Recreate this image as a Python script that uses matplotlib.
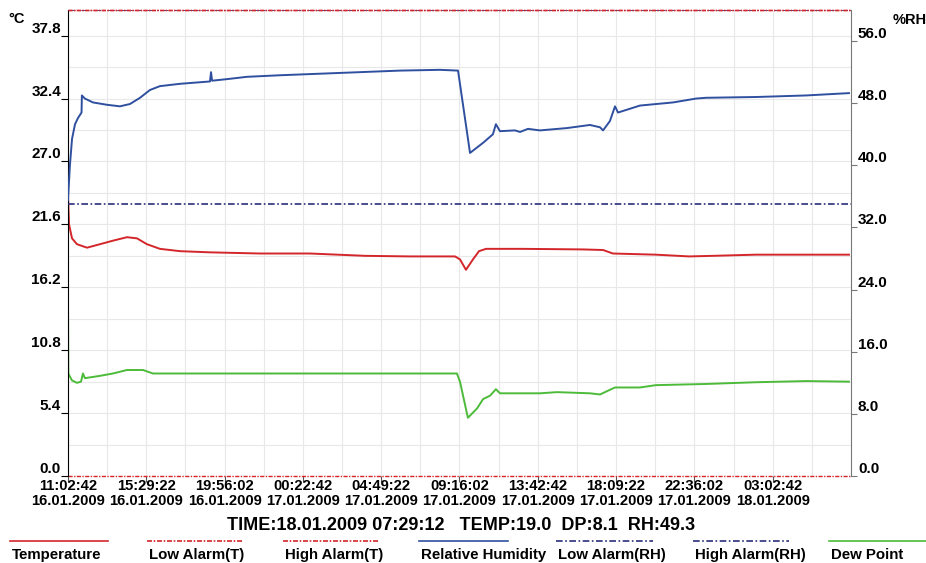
import matplotlib
matplotlib.use('Agg')
import matplotlib.pyplot as plt
import numpy as np
from matplotlib.lines import Line2D

# время в часах от начала записи (16.01.2009 11:02:42)
rh_hours = [0.0, 0.11, 0.23, 0.40, 0.57, 0.77, 0.79, 0.96, 1.42, 2.21, 2.95, 3.52, 4.09, 4.65,
            5.22, 6.36, 7.49, 8.06, 8.12, 8.18, 9.02, 10.16, 12.03, 14.30, 16.57, 18.84,
            21.11, 22.14, 22.82, 23.56, 24.12, 24.29, 24.52, 25.37, 25.66, 26.11, 26.79,
            28.32, 29.63, 30.20, 30.37, 30.76, 31.05, 31.22, 32.47, 34.34, 35.65, 36.21,
            39.05, 41.89, 44.33]
rh_values = [35.5, 40.0, 43.4, 45.3, 46.1, 46.8, 49.0, 48.6, 48.1, 47.8, 47.6, 47.9, 48.7, 49.7,
             50.2, 50.5, 50.7, 50.8, 52.0, 50.9, 51.1, 51.4, 51.6, 51.8, 52.0, 52.2,
             52.3, 52.2, 41.6, 42.9, 44.0, 45.3, 44.4, 44.5, 44.3, 44.7, 44.5,
             44.8, 45.2, 44.9, 44.5, 45.7, 47.6, 46.8, 47.7, 48.1, 48.6, 48.7,
             48.8, 49.0, 49.3]

temp_hours = [0.0, 0.06, 0.23, 0.51, 1.08, 1.82, 2.55, 3.35, 3.92, 4.48, 5.22, 6.36, 8.06,
              10.90, 13.74, 16.86, 19.41, 21.97, 22.25, 22.59, 22.99, 23.33, 23.73, 25.83,
              29.23, 30.37, 30.93, 33.37, 35.25, 36.61, 39.05, 44.33]
temp_values = [24.2, 21.6, 20.4, 19.9, 19.6, 19.9, 20.2, 20.5, 20.4, 19.9, 19.5, 19.3, 19.2,
               19.1, 19.1, 18.9, 18.85, 18.85, 18.6, 17.7, 18.6, 19.3, 19.5, 19.5,
               19.45, 19.4, 19.1, 19.0, 18.85, 18.9, 19.0, 19.0]

dp_hours = [0.0, 0.02, 0.23, 0.51, 0.74, 0.85, 0.96, 1.82, 2.55, 3.35, 4.26, 4.82, 5.79,
            13.17, 18.84, 22.08, 22.25, 22.70, 23.22, 23.56, 23.96, 24.29, 24.52, 26.79,
            27.76, 29.63, 30.20, 30.76, 31.05, 32.47, 33.37, 36.21, 39.05, 41.89, 44.33]
dp_values = [15.6, 8.8, 8.2, 8.0, 8.1, 8.8, 8.4, 8.6, 8.8, 9.1, 9.1, 8.8, 8.8,
             8.8, 8.8, 8.8, 8.1, 5.0, 5.8, 6.6, 6.9, 7.45, 7.1, 7.1,
             7.2, 7.1, 7.0, 7.4, 7.6, 7.6, 7.8, 7.9, 8.05, 8.15, 8.1]

low_alarm_t = 0.0
high_alarm_t = 40.0
low_alarm_rh = 35.0
high_alarm_rh = 60.0

temp_ticks = [0.0, 5.4, 10.8, 16.2, 21.6, 27.0, 32.4, 37.8]
rh_ticks = [0.0, 8.0, 16.0, 24.0, 32.0, 40.0, 48.0, 56.0]
tick_times = ['11:02:42', '15:29:22', '19:56:02', '00:22:42', '04:49:22',
              '09:16:02', '13:42:42', '18:09:22', '22:36:02', '03:02:42']
tick_dates = ['16.01.2009', '16.01.2009', '16.01.2009', '17.01.2009', '17.01.2009',
              '17.01.2009', '17.01.2009', '17.01.2009', '17.01.2009', '18.01.2009']
tick_step = 16000 / 3600  # 4:26:40

plt.rcParams['font.family'] = ['Liberation Sans', 'DejaVu Sans']

RED = '#d3262b'
BLUE = '#2f4f9f'
NAVY = '#2b2f7a'
GREEN = '#4dbb3a'

fig = plt.figure(figsize=(9.26, 5.63), dpi=100)
ax = fig.add_axes([0.0734, 0.1545, 0.8456, 0.8277])
ax2 = ax.twinx()

# сетка и подписи
ax.set_xticks([i * tick_step for i in range(len(tick_times))])
ax.set_xticks([i * tick_step + tick_step / 2 for i in range(10)], minor=True)
ax.set_xticklabels([t + '\n' + d for t, d in zip(tick_times, tick_dates)],
                   fontweight='bold', fontsize=10.6, linespacing=1.12)
ax.set_yticks(temp_ticks)
ax.set_yticks([v + 2.7 for v in temp_ticks[:-1]], minor=True)
ax.set_yticklabels(['%.1f' % v for v in temp_ticks], fontweight='bold', fontsize=11)
ax2.set_yticks(rh_ticks)
ax2.set_yticklabels(['%.1f' % v for v in rh_ticks], fontweight='bold', fontsize=11)

# пределы после тиков, чтобы set_ticks их не расширил
ax.set_xlim(0, tick_step * 10)
ax.set_ylim(low_alarm_t, high_alarm_t)
ax2.set_ylim(0, high_alarm_rh)

ax.grid(which='both', color='#e8e8e8', lw=0.8)
ax.set_axisbelow(True)
ax.tick_params(axis='x', which='major', length=4, pad=-2, color='#555555')
ax.tick_params(axis='y', which='major', length=5, pad=0)
ax.tick_params(which='minor', length=0)
ax2.tick_params(axis='y', length=4, pad=1, color='#777777')
plt.setp(ax.get_yticklabels(), va='bottom')
plt.setp(ax2.get_yticklabels(), va='bottom')

for s in ['top', 'bottom', 'right']:
    ax.spines[s].set_visible(False)
for s in ['top', 'bottom', 'left']:
    ax2.spines[s].set_visible(False)
ax.spines['left'].set_color('black')
ax2.spines['right'].set_color('#777777')

# линии тревоги
alarm_t_style = (0, (3, 1, 1, 1))
alarm_rh_style = (0, (4, 1.5, 1, 1.5))
ax2.axhline(high_alarm_rh, color=NAVY, lw=1.2, ls=alarm_rh_style, zorder=1)
ax2.axhline(low_alarm_rh, color=NAVY, lw=1.2, ls=alarm_rh_style)
ax2.axhline(high_alarm_rh, color=RED, lw=1, ls=alarm_t_style, clip_on=False, zorder=1.5)
ax.axhline(high_alarm_t, color=RED, lw=1, ls=alarm_t_style, clip_on=False)
ax.axhline(low_alarm_t, color=RED, lw=1, ls=alarm_t_style, clip_on=False)

# данные
ax.plot(temp_hours, temp_values, color=RED, lw=1.4)
ax.plot(dp_hours, dp_values, color=GREEN, lw=1.4)
ax2.plot(rh_hours, rh_values, color=BLUE, lw=1.4)

fig.text(8 / 926, 1 - 19 / 563, '°C', fontweight='bold', fontsize=10.5, va='center')
fig.text(893 / 926, 1 - 20 / 563, '%RH', fontweight='bold', fontsize=10.5, va='center')

fig.text(461 / 926, 1 - 525 / 563, 'TIME:18.01.2009 07:29:12   TEMP:19.0  DP:8.1  RH:49.3',
         fontsize=13, fontweight='bold', ha='center', va='center')

# легенда
legend_items = [
    ('Temperature', RED, '-', 10, 108),
    ('Low Alarm(T)', RED, alarm_t_style, 147, 242),
    ('High Alarm(T)', RED, alarm_t_style, 283, 378),
    ('Relative Humidity', BLUE, '-', 419, 508),
    ('Low Alarm(RH)', NAVY, alarm_rh_style, 556, 653),
    ('High Alarm(RH)', NAVY, alarm_rh_style, 693, 789),
    ('Dew Point', GREEN, '-', 829, 926),
]
for name, col, style, x0, x1 in legend_items:
    fig.add_artist(Line2D([x0 / 926, x1 / 926], [1 - 541 / 563] * 2, color=col,
                          ls=style, lw=1.2, transform=fig.transFigure))
    fig.text((x0 + 2) / 926, 1 - 555 / 563, name, fontweight='bold', fontsize=10.8,
             va='center')

plt.savefig('out.png', dpi=100)
